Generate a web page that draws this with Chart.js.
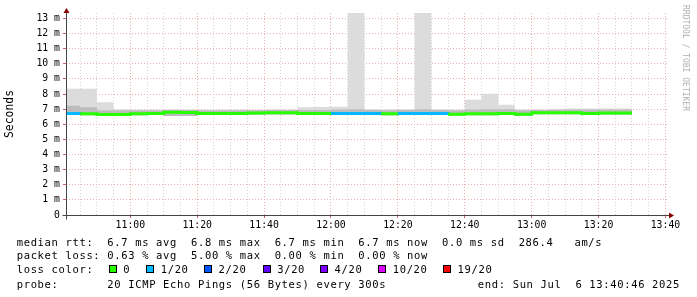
<!DOCTYPE html>
<html>
<head>
<meta charset="utf-8">
<script src="https://cdn.jsdelivr.net/npm/chart.js@4.4.1/dist/chart.umd.min.js"></script>
<style>
body { margin: 0; background: #fff; }
#wrap { position: relative; width: 697px; height: 297px; overflow: hidden; background: #fff; }
#myChart { position: absolute; left: 0; top: 0; }
.t { position: absolute; font-family: "DejaVu Sans Mono", monospace; font-size: 10.5px; letter-spacing: 0.65px;
     white-space: pre; color: #000; line-height: 12px; }
.box { position: absolute; width: 6px; height: 6px; border: 1px solid #000; }
#rrd { position: absolute; left: 681px; top: 5px; writing-mode: vertical-rl; font-family: "DejaVu Sans Mono", monospace;
       font-size: 8px; color: #b0b0b0; white-space: pre; }
</style>
</head>
<body>
<div id="wrap">
  <canvas id="myChart" width="697" height="297"></canvas>
  <div id="rrd">RRDTOOL / TOBI OETIKER</div>
  <div class="t" style="left:16.7px;top:236px">median rtt:  6.7 ms avg  6.8 ms max  6.7 ms min  6.7 ms now  0.0 ms sd  286.4   am/s</div>
  <div class="t" style="left:16.7px;top:249px">packet loss: 0.63 % avg  5.00 % max  0.00 % min  0.00 % now</div>
  <div class="t" style="left:16.7px;top:263px">loss color:</div>
  <div id="losslegend"></div>
  <div class="t" style="left:16.7px;top:278px">probe:       20 ICMP Echo Pings (56 Bytes) every 300s</div>
  <div class="t" style="right:17px;top:278px">end: Sun Jul  6 13:40:46 2025</div>
</div>
<script>
// start of each 5 minute step, the last step ends at endTime
var starts = ['10:40:46','10:45','10:50','10:55','11:00','11:05','11:10','11:15','11:20','11:25','11:30','11:35',
  '11:40','11:45','11:50','11:55','12:00','12:05','12:10','12:15','12:20','12:25','12:30','12:35',
  '12:40','12:45','12:50','12:55','13:00','13:05','13:10','13:15','13:20','13:25']
var endTime = '13:30'
var viewStart = '10:40:46'
var viewEnd = '13:40:46'

// values in ms
var median = [6.72,6.70,6.64,6.64,6.70,6.72,6.80,6.78,6.72,6.72,6.72,6.74,6.76,6.76,6.72,6.72,6.72,6.72,6.72,6.70,
  6.72,6.72,6.72,6.66,6.70,6.70,6.72,6.66,6.76,6.76,6.76,6.72,6.74,6.74]
var lost = [1,0,0,0,0,0,0,0,0,0,0,0,0,0,0,0,1,1,1,0,1,1,1,0,0,0,0,0,0,0,0,0,0,0]
var smokeLo = [6.62,6.60,6.55,6.55,6.60,6.62,6.55,6.55,6.62,6.62,6.62,6.64,6.64,6.64,6.62,6.62,6.62,6.62,6.62,6.60,
  6.62,6.62,6.62,6.56,6.60,6.60,6.62,6.56,6.66,6.66,6.66,6.62,6.64,6.64]
var smokeMid = [7.22,7.12,6.92,6.92,6.92,6.92,6.95,6.95,6.92,6.92,6.92,6.93,6.95,6.95,6.95,6.95,6.98,7.00,6.95,6.92,
  6.95,7.00,6.95,6.92,6.98,7.00,7.00,6.92,6.95,6.96,6.98,6.98,6.98,6.98]
var smokeHi = [8.35,8.35,7.45,6.98,6.96,6.96,6.98,6.98,6.96,6.96,6.96,6.96,6.98,6.98,7.12,7.15,7.16,13.4,7.00,6.98,
  7.00,13.4,6.98,6.96,7.63,8.02,7.30,6.98,6.98,7.00,7.05,7.05,7.05,7.05]

var yMax = 13.36
var lossKeys = ['0','1/20','2/20','3/20','4/20','10/20','19/20']
var lossColors = {0:'#26ff00', 1:'#00b8ff', 2:'#0059ff', 3:'#5e00ff', 4:'#7e00ff', 10:'#dd00ff', 19:'#ff0000'}
var legendBoxX = [108.7,146.2,204,262.7,320,378.2,443.1]

function toMin(t) {
  var p = t.split(':').map(Number)
  return p[0]*60 + p[1] + (p[2] || 0)/60
}
function pts(arr) {
  var out = starts.map((t, i) => ({x: toMin(t), y: arr[i]}))
  out.push({x: toMin(endTime), y: arr[arr.length-1]})
  return out
}
function hhmm(m) {
  var h = Math.floor(m/60), mm = Math.round(m%60)
  return h + ':' + (mm < 10 ? '0' : '') + mm
}

// loss colour legend
var ll = document.getElementById('losslegend')
lossKeys.forEach((k, i) => {
  var n = parseInt(k)
  var b = document.createElement('div')
  b.className = 'box'
  b.style.left = legendBoxX[i] + 'px'
  b.style.top = '265px'
  b.style.background = lossColors[n]
  ll.appendChild(b)
  var s = document.createElement('div')
  s.className = 't'
  s.style.left = (legendBoxX[i] + 14.5) + 'px'
  s.style.top = '263px'
  s.textContent = k
  ll.appendChild(s)
})

var axesPlugin = {
  id: 'rrdAxes',
  afterDatasetsDraw(chart) {
    var c = chart.ctx, a = chart.chartArea
    var x0 = Math.round(a.left) + 0.5, y0 = Math.round(a.bottom) + 0.5
    c.save()
    c.strokeStyle = '#444'
    c.lineWidth = 1
    c.beginPath()
    c.moveTo(x0 - 4, y0); c.lineTo(a.right + 2, y0)
    c.moveTo(x0, y0 + 4); c.lineTo(x0, a.top - 2)
    c.stroke()
    c.fillStyle = '#8b0000'
    c.beginPath()
    c.moveTo(a.right + 6, y0); c.lineTo(a.right + 1, y0 - 3); c.lineTo(a.right + 1, y0 + 3); c.closePath()
    c.fill()
    c.beginPath()
    c.moveTo(x0, a.top - 5); c.lineTo(x0 - 3, a.top); c.lineTo(x0 + 3, a.top); c.closePath()
    c.fill()
    c.restore()
  }
}

const ctx = document.getElementById('myChart')
const chart1 = new Chart(ctx, {
  type: 'line',
  data: {
    datasets: [{
      label: 'median',
      data: pts(median),
      stepped: 'before',
      borderWidth: 3,
      borderColor: '#26ff00',
      segment: { borderColor: c => lossColors[lost[Math.min(c.p0DataIndex, lost.length-1)]] },
      pointRadius: 0,
      fill: false
    },{
      label: 'smoke mid',
      data: pts(smokeMid),
      stepped: 'before',
      borderWidth: 0,
      pointRadius: 0,
      backgroundColor: '#bcbcbc',
      fill: 3
    },{
      label: 'smoke hi',
      data: pts(smokeHi),
      stepped: 'before',
      borderWidth: 0,
      pointRadius: 0,
      backgroundColor: '#dcdcdc',
      fill: 3
    },{
      label: 'smoke lo',
      data: pts(smokeLo),
      stepped: 'before',
      borderWidth: 0,
      pointRadius: 0,
      fill: false
    }]
  },
  options: {
    responsive: false,
    animation: false,
    layout: { padding: { top: 13, right: 29, left: 0, bottom: 0 } },
    plugins: { legend: { display: false }, tooltip: { enabled: false } },
    scales: {
      x: {
        type: 'linear',
        min: toMin(viewStart),
        max: toMin(viewEnd),
        afterBuildTicks: s => {
          var t = []
          for (var m = Math.ceil(s.min/5)*5; m <= s.max; m += 5) t.push({value: m})
          s.ticks = t
        },
        afterFit: s => { s.height = 82 },
        ticks: {
          autoSkip: false, maxRotation: 0, padding: 2, color: '#000',
          font: { family: 'DejaVu Sans Mono', size: 9.8 },
          callback: v => (Math.round(v) % 20 === 0 ? hhmm(v) : '')
        },
        grid: {
          color: c => (Math.round(c.tick.value) % 20 === 0 ? '#eab0b0' : '#d6d6d6'),
          tickColor: c => (Math.round(c.tick.value) % 20 === 0 ? '#d06060' : 'rgba(0,0,0,0)'),
          tickLength: 3
        },
        border: { display: false, dash: [1, 2] }
      },
      y: {
        min: 0,
        max: yMax,
        afterBuildTicks: s => {
          var t = []
          for (var v = 0; v <= s.max; v += 0.5) t.push({value: v})
          s.ticks = t
        },
        afterFit: s => { s.width = 66 },
        title: { display: true, text: 'Seconds', color: '#000', padding: { top: 3, bottom: 0 },
          font: { family: 'DejaVu Sans Mono', size: 11.4 } },
        ticks: {
          padding: 3, color: '#000',
          font: { family: 'DejaVu Sans Mono', size: 9.8 },
          callback: v => (v === 0 ? '0' : (v % 1 === 0 ? v + ' m' : ''))
        },
        grid: {
          color: c => (c.tick.value % 1 === 0 ? '#eab0b0' : '#d6d6d6'),
          tickColor: c => (c.tick.value % 1 === 0 ? '#d06060' : '#bbbbbb'),
          tickLength: 3
        },
        border: { display: false, dash: [1, 2] }
      }
    }
  },
  plugins: [axesPlugin]
});
</script>
</body>
</html>
